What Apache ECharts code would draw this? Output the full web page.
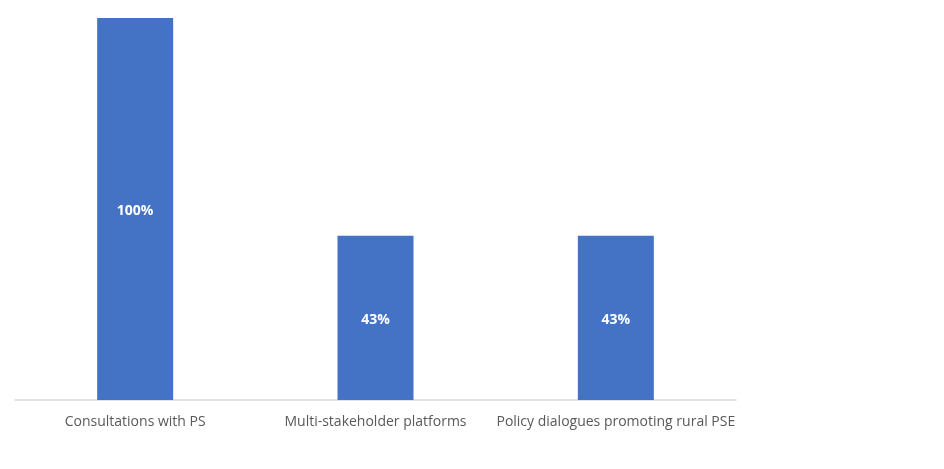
<!DOCTYPE html>
<html>
<head>
<meta charset="utf-8">
<script src="https://cdn.jsdelivr.net/npm/echarts@6/dist/echarts.min.js"></script>
<style>html,body{margin:0;padding:0;background:#fff}#c{width:944px;height:469px}</style>
</head>
<body>
<div id="c"></div>
<script>
var categories = ["Consultations with PS", "Multi-stakeholder platforms", "Policy dialogues promoting rural PSE"];
var values = [100, 43, 43];

var chart = echarts.init(document.getElementById('c'), null, {renderer: 'canvas'});
chart.setOption({
  animation: false,
  grid: {left: 15, right: 208, top: 18, bottom: 69, containLabel: false},
  xAxis: {
    type: 'category',
    data: categories,
    axisLine: {show: true, lineStyle: {color: '#d9d9d9', width: 1.5}},
    axisTick: {show: false},
    axisLabel: {color: '#595959', fontSize: 14, fontFamily: '"Liberation Sans Narrow", "Open Sans", sans-serif', margin: 15, interval: 0}
  },
  yAxis: {
    type: 'value', min: 0, max: 100, show: false,
    splitLine: {show: false}
  },
  series: [{
    type: 'bar',
    data: values,
    barWidth: 76,
    itemStyle: {color: '#4472C4'},
    label: {
      show: true, position: 'inside', color: '#ffffff', fontWeight: 'bold', fontSize: 14,
      fontFamily: '"Open Sans", "Liberation Sans", sans-serif',
      offset: [0, 2],
      formatter: function(p){ return p.value + '%'; }
    }
  }]
});
</script>
</body>
</html>
